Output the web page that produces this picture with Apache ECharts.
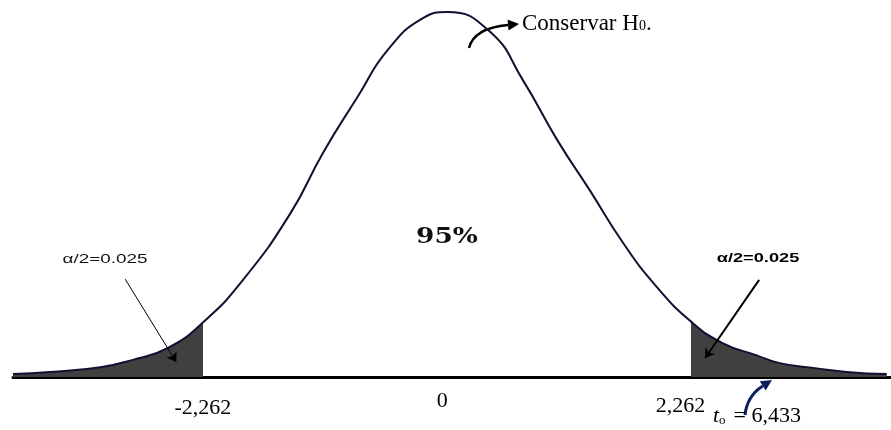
<!DOCTYPE html>
<html>
<head>
<meta charset="utf-8">
<script src="https://cdn.jsdelivr.net/npm/echarts@6/dist/echarts.min.js"></script>
<style>
  html, body { margin: 0; padding: 0; background: #fff; }
  #chart { width: 891px; height: 430px; }
</style>
</head>
<body>
<div id="chart"></div>
<script>
// t values and curve heights (peak = 1)
var tValues = [-4.02, -3.68, -3.21, -2.91, -2.59, -2.262, -1.89, -1.45, -1.15, -0.83, -0.55, -0.22, 0, 0.40, 0.70, 1.02, 1.32, 1.63, 1.94, 2.262, 2.55, 2.86, 3.08, 3.39, 3.70, 4.07];
var density = [0.008, 0.014, 0.027, 0.047, 0.079, 0.149, 0.266, 0.449, 0.614, 0.767, 0.896, 0.984, 1.00, 0.945, 0.814, 0.649, 0.512, 0.367, 0.247, 0.151, 0.093, 0.060, 0.038, 0.025, 0.014, 0.008];
var critical = [-2.262, 2.262];
var tickValues = [-2.262, 0, 2.262];
var tickLabels = ['-2,262', '0', '2,262'];
var alphaLabel = 'α/2=0.025';
var confLabel = '95%';
var testLabel = '= 6,433';

var curve = tValues.map(function (t, i) { return [t, density[i]]; });

var chart = echarts.init(document.getElementById('chart'));

function arrow(a, b, color, width) {
    return [
        { coord: a, lineStyle: { color: color, width: width, type: 'solid' } },
        { coord: b }
    ];
}

// curved pointer: quadratic bezier plus a triangle head at the end
function curvedArrow(p0, cp, p1, color, width, head) {
    var dx = p1[0] - cp[0], dy = p1[1] - cp[1];
    var len = Math.sqrt(dx * dx + dy * dy);
    var ux = dx / len, uy = dy / len;
    var bx = p1[0] - ux * head, by = p1[1] - uy * head;
    var w = head * 0.5;
    return {
        type: 'group',
        children: [
            {
                type: 'bezierCurve',
                shape: { x1: p0[0], y1: p0[1], cpx1: cp[0], cpy1: cp[1], x2: bx, y2: by },
                style: { stroke: color, lineWidth: width, fill: null }
            },
            {
                type: 'polygon',
                shape: { points: [p1, [bx - uy * w, by + ux * w], [bx + uy * w, by - ux * w]] },
                style: { fill: color }
            }
        ]
    };
}

var smooth = 0.5;

chart.setOption({
    animation: false,
    grid: { left: 13, right: 0, top: 12, bottom: 1.9, outerBoundsMode: 'none', containLabel: false },
    xAxis: {
        type: 'value',
        min: -4.02,
        max: 4.11,
        axisLine: { onZero: true, lineStyle: { color: '#000', width: 3 } },
        axisTick: { show: false },
        splitLine: { show: false },
        axisLabel: {
            customValues: tickValues,
            margin: -38,
            color: '#000',
            fontFamily: 'Liberation Serif',
            fontSize: 22,
            formatter: function (v) {
                var i = tickValues.indexOf(v);
                if (i < 0) return '';
                return '{l' + i + '|' + tickLabels[i] + '}';
            },
            rich: {
                l0: { fontFamily: 'Liberation Serif', fontSize: 22, color: '#000', padding: [7, 0, 0, 0] },
                l1: { fontFamily: 'Liberation Serif', fontSize: 22, color: '#000', padding: [0, 10, 0, 0] },
                l2: { fontFamily: 'Liberation Serif', fontSize: 22, color: '#000', padding: [5, 22, 0, 0] }
            }
        }
    },
    yAxis: {
        type: 'value',
        min: -0.14,
        max: 1,
        show: false
    },
    visualMap: {
        show: false,
        type: 'piecewise',
        seriesIndex: 0,
        dimension: 0,
        pieces: [
            { lt: critical[0], color: '#404040' },
            { gte: critical[0], lte: critical[1], color: 'rgba(255,255,255,0)' },
            { gt: critical[1], color: '#404040' }
        ]
    },
    series: [
        {
            // shaded rejection tails
            type: 'line',
            data: curve,
            smooth: smooth,
            symbol: 'none',
            lineStyle: { width: 0 },
            areaStyle: { opacity: 1 },
            z: 1
        },
        {
            type: 'line',
            data: curve,
            smooth: smooth,
            symbol: 'none',
            lineStyle: { color: '#101030', width: 2 },
            z: 3,
            markLine: {
                silent: true,
                symbol: ['none', 'arrow'],
                symbolSize: 9,
                label: { show: false },
                lineStyle: { type: 'solid' },
                data: [
                    arrow([-2.981, 0.268], [-2.509, 0.041], '#000', 1),
                    arrow([2.889, 0.266], [2.389, 0.052], '#000', 2)
                ]
            }
        }
    ],
    graphic: [
        curvedArrow([469, 48], [474, 28], [519, 24], '#000', 2.5, 11),
        curvedArrow([745, 415], [747, 396], [772, 380], '#0b1f5c', 3, 11),
        {
            type: 'text', x: 447, y: 237, scaleX: 1.2,
            style: { text: confLabel, font: 'bold 22px "DejaVu Serif"', fill: '#111', align: 'center', verticalAlign: 'middle' }
        },
        {
            type: 'text', x: 105, y: 259, scaleX: 1.45,
            style: { text: alphaLabel, font: '13px "Liberation Sans"', fill: '#111', align: 'center', verticalAlign: 'middle' }
        },
        {
            type: 'text', x: 758, y: 258, scaleX: 1.4,
            style: { text: alphaLabel, font: 'bold 13px "Liberation Sans"', fill: '#000', align: 'center', verticalAlign: 'middle' }
        },
        {
            type: 'text', x: 522, y: 24,
            style: {
                text: '{a|Conservar H}{b|0}{a|.}',
                align: 'left', verticalAlign: 'middle',
                rich: {
                    a: { fontFamily: 'Liberation Serif', fontSize: 23, fill: '#000', verticalAlign: 'bottom' },
                    b: { fontFamily: 'Liberation Serif', fontSize: 14, fill: '#000', verticalAlign: 'bottom', padding: [0, 0, 2, 0] }
                }
            }
        },
        {
            type: 'text', x: 713, y: 416,
            style: {
                text: '{t|t}{o|o}{n|' + testLabel + '}',
                align: 'left', verticalAlign: 'middle',
                rich: {
                    t: { fontFamily: 'Liberation Serif', fontStyle: 'italic', fontSize: 22, fill: '#000', verticalAlign: 'bottom' },
                    o: { fontFamily: 'Liberation Serif', fontSize: 13, fill: '#000', verticalAlign: 'bottom' },
                    n: { fontFamily: 'Liberation Serif', fontSize: 22, fill: '#000', verticalAlign: 'bottom', padding: [0, 0, 0, 8] }
                }
            }
        }
    ]
});
</script>
</body>
</html>
